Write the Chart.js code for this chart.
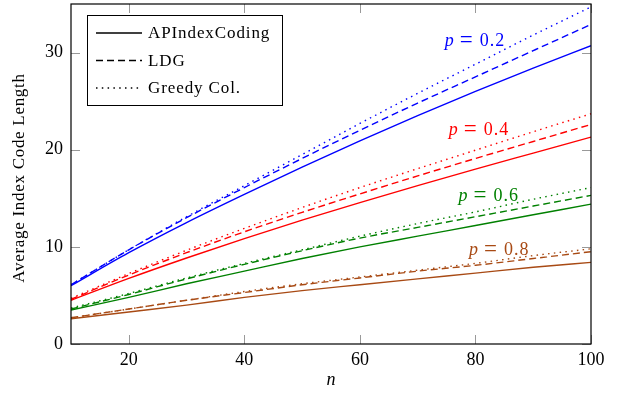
<!DOCTYPE html>
<html>
<head>
<meta charset="utf-8">
<script src="https://cdn.jsdelivr.net/npm/chart.js@4/dist/chart.umd.min.js"></script>
<style>
  html, body { margin: 0; padding: 0; background: #fff; }
  #wrap { width: 623px; height: 393px; position: relative; }
</style>
</head>
<body>
<div id="wrap"><canvas id="chart"></canvas></div>
<script>
// number of users n
const nValues = [10, 20, 30, 40, 50, 60, 70, 80, 90, 100];
const xTicks = [20, 40, 60, 80, 100];
const yTicks = [0, 10, 20, 30];

// p = 0.2
const api02 = [6.0, 9.4, 12.5, 15.4, 18.2, 20.9, 23.5, 26.0, 28.4, 30.7];
const ldg02 = [6.1, 9.7, 13.0, 16.1, 19.1, 22.0, 24.8, 27.5, 30.2, 32.9];
const greedy02 = [6.1, 9.7, 13.1, 16.3, 19.5, 22.7, 25.8, 28.8, 31.8, 34.7];
// p = 0.4
const api04 = [4.5, 6.75, 8.85, 10.85, 12.75, 14.55, 16.3, 18.0, 19.65, 21.3];
const ldg04 = [4.6, 7.1, 9.4, 11.55, 13.55, 15.45, 17.3, 19.1, 20.85, 22.6];
const greedy04 = [4.7, 7.25, 9.65, 11.9, 14.05, 16.1, 18.05, 19.95, 21.85, 23.7];
// p = 0.6
const api06 = [3.5, 4.8, 6.2, 7.5, 8.8, 10.0, 11.1, 12.2, 13.3, 14.4];
const ldg06 = [3.6, 5.1, 6.7, 8.2, 9.6, 10.9, 12.0, 13.1, 14.2, 15.3];
const greedy06 = [3.7, 5.2, 6.8, 8.3, 9.7, 11.1, 12.4, 13.6, 14.9, 16.1];
// p = 0.8
const api08 = [2.6, 3.3, 4.0, 4.8, 5.5, 6.1, 6.7, 7.3, 7.9, 8.4];
const ldg08 = [2.7, 3.6, 4.5, 5.3, 6.1, 6.8, 7.5, 8.1, 8.8, 9.5];
const greedy08 = [2.7, 3.6, 4.5, 5.4, 6.2, 6.9, 7.6, 8.3, 9.1, 9.8];

const pLabels = ["0.2", "0.4", "0.6", "0.8"];
const pLabelX = [80.4, 81.1, 82.8, 84.6];
const pLabelY = [31.2, 22.0, 15.2, 9.7];
const legendNames = ["APIndexCoding", "LDG", "Greedy Col."];

const colors = ["#0000ff", "#ff0000", "#008000", "#a84a14"];
const styles = [[], [7, 4], [1.5, 4.3]];
const groups = [
  [api02, ldg02, greedy02],
  [api04, ldg04, greedy04],
  [api06, ldg06, greedy06],
  [api08, ldg08, greedy08],
];

const serif = "'Liberation Serif', 'DejaVu Serif', serif";

const datasets = [];
groups.forEach(function (g, gi) {
  g.forEach(function (vals, si) {
    datasets.push({
      label: legendNames[si] + " p=" + pLabels[gi],
      data: vals.map((v, i) => ({ x: nValues[i], y: v })),
      borderColor: colors[gi],
      borderWidth: 1.4,
      borderDash: styles[si],
      pointRadius: 0,
      cubicInterpolationMode: "monotone",
      fill: false,
    });
  });
});

const decorations = {
  id: "decorations",
  afterDraw(chart) {
    const ctx = chart.ctx;
    const a = chart.chartArea;
    const xs = chart.scales.x;
    const ys = chart.scales.y;
    ctx.save();

    // inward ticks on all sides
    ctx.strokeStyle = "#999";
    ctx.lineWidth = 1;
    const tl = 9;
    xTicks.forEach(function (v) {
      const px = Math.round(xs.getPixelForValue(v)) + 0.5;
      ctx.beginPath();
      ctx.moveTo(px, a.bottom); ctx.lineTo(px, a.bottom - tl);
      ctx.moveTo(px, a.top); ctx.lineTo(px, a.top + tl);
      ctx.stroke();
    });
    yTicks.forEach(function (v) {
      const py = Math.round(ys.getPixelForValue(v)) + 0.5;
      ctx.beginPath();
      ctx.moveTo(a.left, py); ctx.lineTo(a.left + tl, py);
      ctx.moveTo(a.right, py); ctx.lineTo(a.right - tl, py);
      ctx.stroke();
    });

    // frame
    ctx.strokeStyle = "#000";
    ctx.lineWidth = 1.2;
    ctx.strokeRect(a.left, a.top, a.right - a.left, a.bottom - a.top);

    // p labels
    ctx.textBaseline = "middle";
    ctx.textAlign = "left";
    pLabels.forEach(function (p, i) {
      const cx = xs.getPixelForValue(pLabelX[i]);
      const cy = ys.getPixelForValue(pLabelY[i]);
      const x0 = cx - 33;
      ctx.fillStyle = colors[i];
      ctx.font = "italic 18px " + serif;
      ctx.fillText("p", x0, cy);
      ctx.font = "23px " + serif;
      ctx.fillText("=", x0 + 15, cy);
      ctx.font = "18px " + serif;
      ctx.letterSpacing = "1px";
      ctx.fillText(p, x0 + 35, cy);
      ctx.letterSpacing = "0px";
    });

    // legend box
    const lx = 87, ly = 15, lw = 195, lh = 90;
    ctx.fillStyle = "#fff";
    ctx.fillRect(lx, ly, lw, lh);
    ctx.strokeStyle = "#000";
    ctx.lineWidth = 1;
    ctx.strokeRect(lx + 0.5, ly + 0.5, lw, lh);
    legendNames.forEach(function (name, i) {
      const y = ly + 18 + i * 27.5;
      ctx.strokeStyle = "#000";
      ctx.lineWidth = 1.4;
      ctx.setLineDash(styles[i]);
      ctx.beginPath();
      ctx.moveTo(lx + 9, y); ctx.lineTo(lx + 55, y);
      ctx.stroke();
      ctx.setLineDash([]);
      ctx.fillStyle = "#000";
      ctx.font = "17px " + serif;
      ctx.letterSpacing = "0.9px";
      ctx.textAlign = "left";
      ctx.textBaseline = "middle";
      ctx.fillText(name, lx + 61, y + 1);
      ctx.letterSpacing = "0px";
    });

    // axis titles
    ctx.fillStyle = "#000";
    ctx.font = "italic 18px " + serif;
    ctx.textAlign = "center";
    ctx.textBaseline = "middle";
    ctx.fillText("n", (a.left + a.right) / 2, 380);
    ctx.save();
    ctx.translate(20, 178);
    ctx.rotate(-Math.PI / 2);
    ctx.font = "17px " + serif;
    ctx.letterSpacing = "0.7px";
    ctx.fillText("Average Index Code Length", 0, 0);
    ctx.restore();

    ctx.restore();
  },
};

new Chart(document.getElementById("chart").getContext("2d"), {
  type: "line",
  data: { datasets: datasets },
  options: {
    responsive: true,
    maintainAspectRatio: false,
    animation: false,
    layout: { padding: { top: 4, right: 32, left: 0, bottom: 0 } },
    plugins: { legend: { display: false }, tooltip: { enabled: false } },
    scales: {
      x: {
        type: "linear",
        min: 10,
        max: 100,
        afterBuildTicks: (s) => { s.ticks = xTicks.map((v) => ({ value: v })); },
        afterFit: (s) => { s.height = 49; s.paddingLeft = 0; s.paddingRight = 0; },
        grid: { display: false, drawTicks: false },
        border: { display: false },
        ticks: { color: "#000", padding: 5, maxRotation: 0, font: { family: serif, size: 18 } },
      },
      y: {
        type: "linear",
        min: 0,
        max: 35,
        afterBuildTicks: (s) => { s.ticks = yTicks.map((v) => ({ value: v })); },
        afterFit: (s) => { s.width = 71; s.paddingTop = 0; s.paddingBottom = 0; },
        grid: { display: false, drawTicks: false },
        border: { display: false },
        ticks: { color: "#000", padding: 8, font: { family: serif, size: 18 } },
      },
    },
  },
  plugins: [decorations],
});
</script>
</body>
</html>
